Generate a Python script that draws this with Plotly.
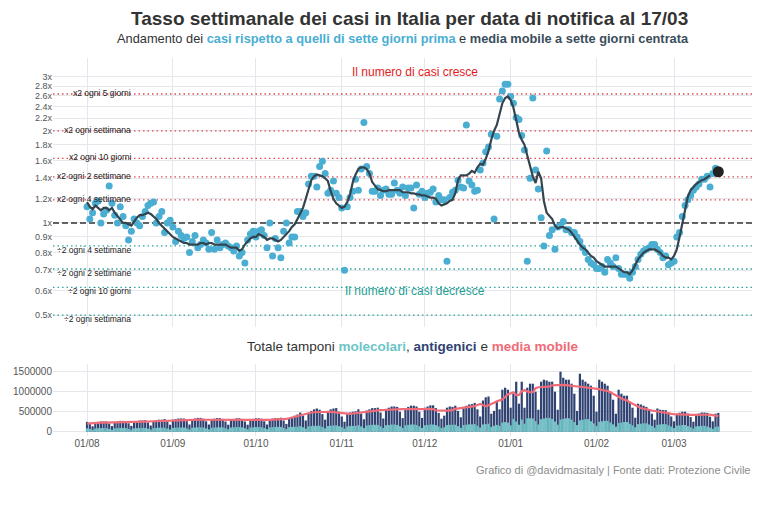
import math
import pandas as pd
import plotly.graph_objects as go

W, H = 767, 511

# ---------------- DATA ----------------
start_date = "2020-08-01"
end_date = "2021-03-17"

# weekly ratio of cases (cases / cases seven days before), one per day from 01/08
rapporto = [
    1.13, 1.03, 1.08, 1.16, 1.18, 1.00, 1.07, 1.10, 1.32, 1.16,
    1.06, 1.00, 1.13, 1.05, 0.98, 0.88, 0.94, 1.03, 1.00, 0.98,
    1.05, 1.09, 1.14, 1.16, 1.17, 1.00, 1.05, 1.09, 0.93, 1.00,
    1.02, 0.97, 0.87, 0.94, 0.91, 0.89, 0.90, 0.80, 0.87, 0.91,
    0.83, 0.85, 0.88, 0.86,
    0.82, 0.93, 0.82, 0.88, 0.83, 0.85, 0.86, 0.84, 0.83, 0.81,
    0.84, 0.78, 0.80, 0.74, 0.88, 0.92, 0.94, 0.90, 0.94, 0.95,
    0.91, 0.83, 1.00, 0.78, 0.89, 0.83, 0.77, 0.94, 1.00, 0.86,
    0.90, 0.90, 1.09, 1.09, 1.05, 1.08, 1.34, 1.42, 1.42, 1.31,
    1.53, 1.59, 1.45, 1.25, 1.28,
    1.37, 1.25, 1.21, 1.12, 0.70, 1.13, 1.21, 1.27, 1.39, 1.28,
    1.50, 2.13, 1.53, 1.45, 1.27, 1.27, 1.30, 1.23, 1.28, 1.29,
    1.24, 1.24, 1.35, 1.28, 1.25, 1.31, 1.23, 1.30, 1.30, 1.12,
    1.33, 1.24, 1.27, 1.21, 1.25, 1.26, 1.29, 1.17, 1.23, 1.19,
    1.19, 0.75, 1.21, 1.26, 1.28, 1.38,
    1.31, 1.30, 2.09, 1.37, 1.33, 1.27, 1.28, 1.49, 1.57, 1.71,
    1.77, 1.95, 1.03, 1.92, 2.54, 2.70, 2.84, 2.84, 2.59, 2.46,
    2.21, 2.18, 1.93, 1.73, 0.75, 1.40, 2.56, 1.49, 1.29, 1.04,
    0.84, 1.72, 0.91, 0.95, 0.82, 0.97, 0.98, 1.01, 0.95, 0.95,
    0.93, 0.93, 0.90, 0.87, 0.83, 0.80, 0.76,
    0.74, 0.73, 0.71, 0.71, 0.72, 0.69, 0.76, 0.74, 0.72, 0.77,
    0.71, 0.68, 0.68, 0.68, 0.66, 0.69, 0.72, 0.76, 0.79, 0.81,
    0.82, 0.83, 0.85, 0.85, 0.82, 0.80, 0.77, 0.78, 0.73, 0.74,
    0.75, 0.90, 0.93, 1.05, 1.14, 1.19, 1.23, 1.28, 1.31, 1.34,
    1.39, 1.39, 1.42, 1.31, 1.45, 1.51, 1.47,
]

# centred seven-day moving average (ends three days before the last point)
media_mobile = [
    1.17, 1.13, 1.11, 1.14, 1.12, 1.10, 1.12, 1.12, 1.10, 1.12,
    1.08, 1.05, 1.02, 1.00, 1.00, 0.99, 0.98, 1.01, 1.04, 1.06,
    1.06, 1.07, 1.08, 1.07, 1.05, 1.03, 1.00, 0.98, 0.96, 0.94,
    0.92, 0.90, 0.89, 0.88, 0.87, 0.86, 0.86, 0.85, 0.85, 0.85,
    0.85, 0.86, 0.86, 0.85,
    0.86, 0.86, 0.85, 0.85, 0.85, 0.85, 0.85, 0.84, 0.83, 0.83,
    0.83, 0.81, 0.82, 0.85, 0.87, 0.89, 0.90, 0.90, 0.92, 0.91,
    0.90, 0.88, 0.89, 0.89, 0.88, 0.87, 0.88, 0.90, 0.92, 0.94,
    0.97, 0.99, 1.03, 1.07, 1.12, 1.20, 1.30, 1.38, 1.42, 1.44,
    1.43, 1.42, 1.40, 1.37, 1.27,
    1.20, 1.16, 1.14, 1.12, 1.13, 1.17, 1.24, 1.36, 1.44, 1.50,
    1.52, 1.52, 1.50, 1.45, 1.36, 1.32, 1.29, 1.28, 1.27, 1.27,
    1.28, 1.28, 1.28, 1.28, 1.28, 1.26, 1.26, 1.26, 1.25, 1.25,
    1.24, 1.24, 1.23, 1.23, 1.22, 1.21, 1.21, 1.20, 1.16, 1.14,
    1.15, 1.16, 1.18, 1.19, 1.25, 1.38,
    1.43, 1.43, 1.43, 1.45, 1.48, 1.46, 1.52, 1.56, 1.55, 1.62,
    1.72, 1.87, 2.00, 2.09, 2.29, 2.46, 2.56, 2.59, 2.52, 2.38,
    2.17, 1.97, 1.87, 1.80, 1.66, 1.52, 1.42, 1.35, 1.47, 1.40,
    1.18, 1.08, 1.05, 1.03, 0.98, 0.96, 0.97, 0.97, 0.96, 0.95,
    0.93, 0.90, 0.88, 0.85, 0.83, 0.82, 0.80,
    0.78, 0.77, 0.75, 0.74, 0.73, 0.72, 0.72, 0.72, 0.72, 0.72,
    0.71, 0.70, 0.69, 0.69, 0.68, 0.70, 0.73, 0.76, 0.78, 0.80,
    0.81, 0.82, 0.82, 0.82, 0.81, 0.80, 0.78, 0.77, 0.77, 0.76,
    0.78, 0.82, 0.90, 1.00, 1.12, 1.22, 1.28, 1.31, 1.34, 1.36,
    1.38, 1.39, 1.41, 1.43,
]

# daily swabs, thousands (week rows start on Saturday)
totale_k = [
    245, 195, 135, 235, 245, 255, 255,
    255, 205, 140, 240, 255, 270, 270,
    265, 210, 145, 250, 265, 280, 280,
    285, 230, 155, 270, 285, 300, 300,
    315, 250, 175, 300, 315, 330, 330,
    330, 265, 180, 315, 330, 345, 345,
    325, 260, 180, 310, 325, 340, 340,
    320, 255, 175, 305, 320, 335, 335,
    320, 255, 175, 305, 320, 335, 335,
    325, 260, 180, 310, 325, 340, 340,
    350, 280, 195, 335, 360, 400, 430,
    480, 400, 280, 470, 520, 560, 580,
    550, 440, 300, 520, 560, 580, 590,
    500, 380, 250, 440, 480, 500, 510,
    560, 450, 310, 530, 560, 590, 590,
    600, 480, 330, 570, 600, 630, 630,
    620, 500, 340, 590, 620, 650, 650,
    630, 500, 345, 600, 630, 660, 660,
    590, 470, 325, 400, 600, 630, 620,
    650, 520, 360, 620, 650, 680, 690,
    720, 560, 380, 780, 860, 880, 450,
    520, 750, 560, 1050, 1100, 1050, 600,
    950, 1250, 700, 1250, 600, 1100, 1200,
    1200, 1000, 550, 1250, 1300, 1280, 1250,
    1250, 1000, 550, 1500, 1350, 1300, 1300,
    1200, 950, 520, 1450, 1300, 1250, 1200,
    1150, 900, 500, 1300, 1250, 1200, 1150,
    1000, 800, 450, 1050, 950, 900, 900,
    750, 600, 350, 700, 680, 650, 620,
    560, 450, 300, 580, 550, 540, 540,
    475, 380, 260, 450, 475, 500, 500,
    455, 365, 250, 430, 455, 480, 480,
    470, 375, 260, 450, 470,
]

molecolari_k = [
    85, 70, 50, 80, 85, 90, 90,
    90, 72, 50, 85, 90, 95, 95,
    90, 72, 50, 85, 90, 95, 95,
    95, 76, 52, 90, 95, 100, 100,
    100, 80, 55, 95, 100, 105, 105,
    105, 84, 58, 100, 105, 110, 110,
    105, 84, 58, 100, 105, 110, 110,
    110, 88, 60, 105, 110, 115, 115,
    110, 88, 60, 105, 110, 115, 115,
    115, 92, 63, 110, 115, 120, 120,
    120, 96, 66, 115, 120, 125, 125,
    140, 112, 77, 133, 140, 147, 147,
    150, 120, 83, 143, 150, 158, 158,
    140, 112, 77, 133, 140, 147, 147,
    165, 132, 91, 157, 165, 173, 173,
    170, 136, 94, 162, 170, 179, 179,
    170, 136, 94, 162, 170, 179, 179,
    170, 136, 94, 162, 170, 179, 179,
    165, 132, 91, 110, 165, 173, 173,
    175, 140, 96, 166, 175, 184, 184,
    190, 152, 105, 180, 190, 200, 120,
    150, 170, 150, 230, 240, 230, 160,
    320, 256, 176, 304, 200, 336, 336,
    330, 264, 182, 314, 330, 347, 347,
    320, 256, 176, 304, 320, 336, 336,
    300, 240, 165, 285, 300, 315, 315,
    260, 208, 143, 247, 260, 273, 273,
    230, 184, 127, 219, 230, 242, 242,
    200, 160, 110, 190, 200, 210, 210,
    180, 144, 99, 171, 180, 189, 189,
    160, 128, 88, 152, 160, 168, 168,
    140, 112, 77, 133, 140, 147, 147,
    130, 104, 72, 124, 130,
]

raddoppio_giorni = [5, 7, 10, 14, 28]
raddoppio_etichette = ["x2 ogni 5 giorni", "x2 ogni settimana", "x2 ogni 10 giorni",
                       "x2 ogni 2 settimane", "x2 ogni 4 settimane"]
dimezzamento_giorni = [28, 14, 10, 7]
dimezzamento_etichette = ["÷2 ogni 4 settimane", "÷2 ogni 2 settimane",
                          "÷2 ogni 10 giorni", "÷2 ogni settimana"]

y_tickvals = [0.5, 0.6, 0.7, 0.8, 0.9, 1, 1.2, 1.4, 1.6, 1.8, 2, 2.2, 2.4, 2.6, 2.8, 3]
y_ticktext = ["0.5x", "0.6x", "0.7x", "0.8x", "0.9x", "1x", "1.2x", "1.4x", "1.6x",
              "1.8x", "2x", "2.2x", "2.4x", "2.6x", "2.8x", "3x"]
y2_tickvals = [0, 500000, 1000000, 1500000]
y2_ticktext = ["0", "500000", "1000000", "1500000"]

# ---------------- STYLE ----------------
FONT = "Liberation Sans, Arial, sans-serif"
GRID = "#e6e7ec"
BLUE = "#4aaed3"
LINE = "#34444e"
RED = "#e0484f"
GREEN = "#2aa69b"
TEAL = "#6cc5c7"
NAVY = "#2f4272"
PINK = "#f06b77"

X_LEFT = "2020-07-19 17:00"
X_RIGHT = "2021-03-29 04:00"

def px_x(p):
    return p / W

def px_y(p):
    return 1 - p / H

dates = pd.date_range(start_date, end_date, freq="D")
totale = [v * 1000 for v in totale_k]
molecolari = [v * 1000 for v in molecolari_k]
mm_tamponi = pd.Series(totale).rolling(7, center=True, min_periods=4).mean()

fig = go.Figure()

# reference lines (upper panel)
for d in raddoppio_giorni:
    v = 2 ** (7 / d)
    fig.add_trace(go.Scatter(x=[X_LEFT, X_RIGHT], y=[v, v], mode="lines",
                             line=dict(color=RED, width=1.3, dash="1.5px,3px"),
                             hoverinfo="skip", xaxis="x", yaxis="y"))
for d in dimezzamento_giorni:
    v = 0.5 ** (7 / d)
    fig.add_trace(go.Scatter(x=[X_LEFT, X_RIGHT], y=[v, v], mode="lines",
                             line=dict(color=GREEN, width=1.3, dash="1.5px,3px"),
                             hoverinfo="skip", xaxis="x", yaxis="y"))
fig.add_trace(go.Scatter(x=[X_LEFT, X_RIGHT], y=[1, 1], mode="lines",
                         line=dict(color="#333333", width=1.6, dash="6px,3px"),
                         hoverinfo="skip", xaxis="x", yaxis="y"))

fig.add_trace(go.Scatter(x=dates, y=rapporto, mode="markers",
                         marker=dict(size=7, color=BLUE), xaxis="x", yaxis="y"))
fig.add_trace(go.Scatter(x=dates[:len(media_mobile)], y=media_mobile, mode="lines",
                         line=dict(color=LINE, width=2.2), xaxis="x", yaxis="y"))
fig.add_trace(go.Scatter(x=[dates[-1]], y=[rapporto[-1]], mode="markers",
                         marker=dict(size=11, color="#222222"), xaxis="x", yaxis="y"))

# lower panel
bar_w = 0.8 * 86400000
fig.add_trace(go.Bar(x=dates, y=totale, width=bar_w, marker=dict(color=NAVY, line=dict(width=0)),
                     xaxis="x2", yaxis="y2"))
fig.add_trace(go.Bar(x=dates, y=molecolari, width=bar_w, marker=dict(color=TEAL, line=dict(width=0)),
                     xaxis="x2", yaxis="y2"))
fig.add_trace(go.Scatter(x=dates, y=mm_tamponi, mode="lines",
                         line=dict(color=PINK, width=2.2), xaxis="x2", yaxis="y2"))

annotations = []
for d, lab in zip(raddoppio_giorni, raddoppio_etichette):
    annotations.append(dict(xref="paper", x=px_x(133), xanchor="right", yref="y",
                            y=math.log10(2 ** (7 / d)), yanchor="middle", yshift=1,
                            text=lab, showarrow=False, font=dict(size=8.5, color="#222")))
for d, lab in zip(dimezzamento_giorni, dimezzamento_etichette):
    annotations.append(dict(xref="paper", x=px_x(133), xanchor="right", yref="y",
                            y=math.log10(0.5 ** (7 / d)), yanchor="middle", yshift=-4,
                            text=lab, showarrow=False, font=dict(size=8.5, color="#222")))

annotations += [
    dict(xref="paper", yref="paper", x=px_x(410), y=px_y(18), xanchor="center", yanchor="middle",
         text="<b>Tasso settimanale dei casi in Italia per data di notifica al 17/03</b>",
         showarrow=False, font=dict(size=19, color="#333")),
    dict(xref="paper", yref="paper", x=px_x(403), y=px_y(38), xanchor="center", yanchor="middle",
         text=("Andamento dei <b><span style='color:#4aaed3'>casi rispetto a quelli di sette giorni prima</span></b>"
               " e <b><span style='color:#3a4d5a'>media mobile a sette giorni centrata</span></b>"),
         showarrow=False, font=dict(size=12.8, color="#333")),
    dict(xref="paper", yref="paper", x=px_x(415), y=px_y(72), xanchor="center", yanchor="middle",
         text="Il numero di casi cresce", showarrow=False, font=dict(size=12, color="#e31a1c")),
    dict(xref="paper", yref="paper", x=px_x(415), y=px_y(291), xanchor="center", yanchor="middle",
         text="Il numero di casi decresce", showarrow=False, font=dict(size=12, color="#1f9e94")),
    dict(xref="paper", yref="paper", x=px_x(412), y=px_y(346), xanchor="center", yanchor="middle",
         text=("Totale tamponi <b><span style='color:#6cc5c7'>molecolari</span></b>, "
               "<b><span style='color:#2f4272'>antigenici</span></b> e "
               "<b><span style='color:#f06b77'>media mobile</span></b>"),
         showarrow=False, font=dict(size=13.5, color="#333")),
    dict(xref="paper", yref="paper", x=px_x(752), y=px_y(470), xanchor="right", yanchor="middle",
         text="Grafico di @davidmasitaly | Fonte dati: Protezione Civile",
         showarrow=False, font=dict(size=11, color="#8c8c8c")),
]

fig.update_layout(
    width=W, height=H, margin=dict(l=0, r=0, t=0, b=0),
    paper_bgcolor="white", plot_bgcolor="white",
    showlegend=False, barmode="overlay",
    font=dict(family=FONT, color="#333"),
    annotations=annotations,
    xaxis=dict(domain=[px_x(53), px_x(752)], range=[X_LEFT, X_RIGHT], type="date",
               showticklabels=False, showgrid=True, gridcolor=GRID, gridwidth=1,
               tick0=start_date, dtick="M1", zeroline=False, showline=False, ticks="",
               anchor="y"),
    yaxis=dict(domain=[px_y(327), px_y(58)], type="log",
               range=[math.log10(0.457), math.log10(3.46)],
               tickvals=y_tickvals, ticktext=y_ticktext, showgrid=True, gridcolor=GRID,
               tickfont=dict(size=9, color="#555"), zeroline=False, showline=False,
               ticks="", anchor="x"),
    xaxis2=dict(domain=[px_x(53), px_x(752)], matches="x", type="date", anchor="y2",
                tickformat="%d/%m", tick0=start_date, dtick="M1", showgrid=True,
                gridcolor=GRID, tickfont=dict(size=10, color="#555"), zeroline=False,
                showline=False, ticks=""),
    yaxis2=dict(domain=[px_y(436), px_y(364)], range=[-107500, 1692500],
                tickvals=y2_tickvals, ticktext=y2_ticktext, showgrid=True, gridcolor=GRID,
                tickfont=dict(size=10, color="#555"), zeroline=False, showline=False,
                ticks="", anchor="x2"),
)

fig.write_html("out.html", config={"displayModeBar": False})
